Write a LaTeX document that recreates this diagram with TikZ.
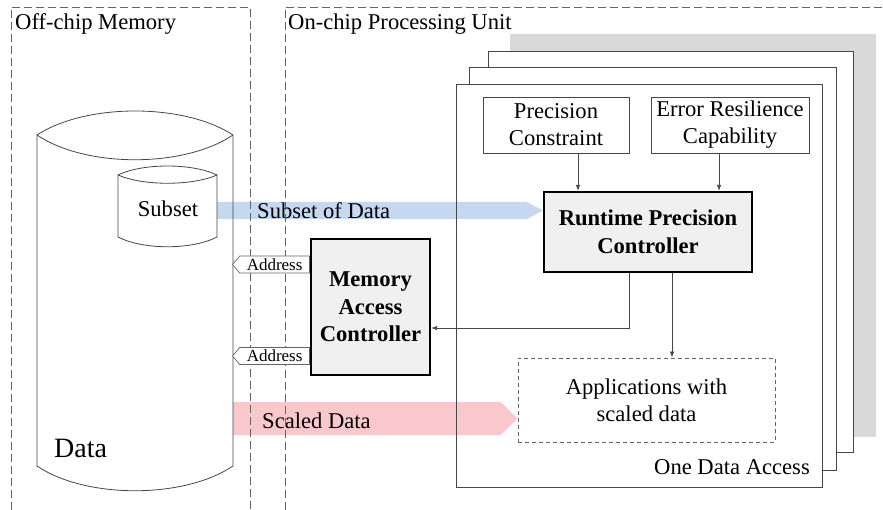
\documentclass[tikz,border=0pt]{standalone}
\usepackage{fontspec}
\setmainfont{Liberation Serif}
\usetikzlibrary{arrows.meta,shapes.symbols,calc}
\definecolor{bandblue}{RGB}{198,216,239}
\definecolor{bandpink}{RGB}{249,200,204}
\definecolor{shadowgray}{RGB}{217,217,217}
\definecolor{ctrlfill}{RGB}{240,240,240}
\definecolor{linegray}{RGB}{70,70,70}
\definecolor{dashgray}{RGB}{100,100,100}
\newcommand{\fsnorm}{\fontsize{22.6}{27}\selectfont}
\newcommand{\fsbold}{\fontsize{22.6}{27.5}\selectfont\bfseries}
\newcommand{\fssmall}{\fontsize{17}{20}\selectfont}
\newcommand{\fsbig}{\fontsize{28}{32}\selectfont}
\begin{document}
\begin{tikzpicture}[x=1pt,y=-1pt,
  frame/.style={draw=dashgray, line width=0.8pt, dash pattern=on 8pt off 4pt},
  plainbox/.style={draw=linegray, line width=0.8pt, fill=white, inner sep=0pt, align=center, font=\fsnorm},
  ctrlbox/.style={draw=black, line width=2.2pt, fill=ctrlfill, inner sep=0pt, align=center, font=\fsbold},
  appbox/.style={draw=dashgray, line width=0.8pt, dash pattern=on 4pt off 3pt, inner sep=0pt, align=center, font=\fsnorm},
  stackbox/.style={draw=linegray, line width=0.8pt, fill=white},
  cyl/.style={draw=linegray, line width=0.8pt},
  arr/.style={draw=linegray, line width=0.8pt, -{Latex[length=6pt,width=4.5pt]}},
  addr/.style={draw=dashgray, line width=0.7pt, fill=white, signal, signal to=west, signal pointer angle=100,
    minimum width=77pt, minimum height=17pt, inner sep=0pt, font=\fssmall, anchor=east},
  label/.style={inner sep=0pt, font=\fsnorm}
]
\useasboundingbox (0,0) rectangle (883,510);
% stacked processing boxes
\fill[shadowgray] (510,34) rectangle (876,437);
\draw[stackbox] (488,51) rectangle (853,452);
\draw[stackbox] (469,67) rectangle (836,470);
\fill[white] (456,84) rectangle (822,487);
% cylinders (fills)
\fill[white] (37,135) .. controls (86,103) and (184,103) .. (233,135) -- (233,466) .. controls (184,499) and (86,499) .. (37,466) -- cycle;
% nodes
\node[plainbox, minimum width=146pt, minimum height=56pt] (pc) at (556,125) {Precision\\Constraint};
\node[plainbox, minimum width=158pt, minimum height=56pt] (er) at (730,125) {Error Resilience\\Capability};
\node[ctrlbox, minimum width=208pt, minimum height=80pt] (rpc) at (648,232) {Runtime Precision\\Controller};
\node[ctrlbox, minimum width=119pt, minimum height=136pt] (mac) at (370.5,307) {Memory\\Access\\Controller};
\node[appbox, minimum width=257pt, minimum height=84pt] (app) at (646.5,400) {Applications with\\scaled data};
% bands
\coordinate (bS) at (217,210.5);
\coordinate (bE) at ([yshift=21.5pt]rpc.west);
\fill[bandblue] ($(bS)+(0,-8.5)$) -- ($(bE)+(-16,-8.5)$) -- (bE) -- ($(bE)+(-16,8.5)$) -- ($(bS)+(0,8.5)$) -- cycle;
\coordinate (pS) at (233,418.5);
\coordinate (pE) at ([yshift=-18.5pt]app.west);
\fill[bandpink] ($(pS)+(0,-16.5)$) -- ($(pE)+(-17,-16.5)$) -- (pE) -- ($(pE)+(-17,16.5)$) -- ($(pS)+(0,16.5)$) -- cycle;
\node[label, anchor=west] (sdt) at (257,210.5) {Subset of Data};
\node[label, anchor=west] (sct) at (262,421) {Scaled Data};
% outlines over bands
\draw[stackbox, fill=none] (456,84) rectangle (822,487);
\draw[cyl] (37,135) .. controls (86,103) and (184,103) .. (233,135) -- (233,466) .. controls (184,499) and (86,499) .. (37,466) -- cycle;
\draw[cyl] (37,135) .. controls (86,168) and (184,168) .. (233,135);
\draw[cyl, fill=white] (118,175) .. controls (143,163) and (192,163) .. (217,175) -- (217,237) .. controls (192,250) and (143,250) .. (118,237) -- cycle;
\draw[cyl] (118,175) .. controls (143,186) and (192,186) .. (217,175);
\node[label] (subset) at (168,209) {Subset};
\node[inner sep=0pt, font=\fsbig, anchor=west] (data) at (54,448) {Data};
% dashed frames
\draw[frame] (11,510) -- (11,7) -- (250,7) -- (250,510);
\draw[frame] (285,510) -- (285,7) -- (883,7);
\node[inner sep=0pt, font=\fsnorm, anchor=base west] (offt) at (15,30) {Off-chip Memory};
\node[inner sep=0pt, font=\fsnorm, anchor=base west] (ont) at (288,30) {On-chip Processing Unit};
\node[inner sep=0pt, font=\fsnorm, anchor=base east] (oda) at (810,474) {One Data Access};
% address signals
\node[addr] (a1) at ([yshift=42.5pt]mac.west) {Address};
\node[addr] (a2) at ([yshift=-49pt]mac.west) {Address};
% connectors
\draw[arr] ([xshift=22pt]pc.south) -- ([xshift=22pt]pc.south |- rpc.north);
\draw[arr] ([xshift=-11pt]er.south) -- ([xshift=-11pt]er.south |- rpc.north);
\draw[arr] ([xshift=-19pt]rpc.south) |- ([yshift=-21pt]mac.east);
\draw[arr] ([xshift=24pt]rpc.south) -- ([xshift=24pt]rpc.south |- app.north);
\end{tikzpicture}
\end{document}
